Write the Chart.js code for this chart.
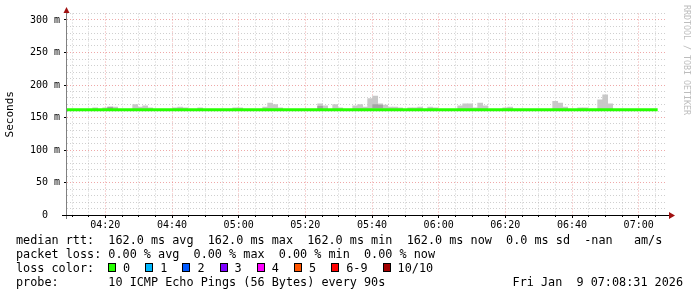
<!DOCTYPE html>
<html>
<head>
<meta charset="utf-8">
<script src="https://cdn.jsdelivr.net/npm/chart.js@4"></script>
<style>
  html, body { margin: 0; padding: 0; background: #fff; }
  canvas { display: block; }
</style>
</head>
<body>
<canvas id="smoke" width="697" height="297"></canvas>
<script>
// x is minutes after 04:08:30, one rrd step = 90 s
const startMin = 4 * 60 + 8.5;
const stepMin = 1.5;
const firstSlot = -1.3; // first step is cut by the left edge

// median rtt per step (ms)
const medianRtt = [
  162, 162, 162, 162, 162, 162, 162, 162, 162, 162, 162, 162, 162, 162, 162, 162, 162, 162, 162, 162,
  162, 162, 162, 162, 162, 162, 162, 162, 162, 162, 162, 162, 162, 162, 162, 162, 162, 162, 162, 162,
  162, 162, 162, 162, 162, 162, 162, 162, 162, 162, 162, 162, 162, 162, 162, 162, 162, 162, 162, 162,
  162, 162, 162, 162, 162, 162, 162, 162, 162, 162, 162, 162, 162, 162, 162, 162, 162, 162, 162, 162,
  162, 162, 162, 162, 162, 162, 162, 162, 162, 162, 162, 162, 162, 162, 162, 162, 162, 162, 162, 162,
  162, 162, 162, 162, 162, 162, 162, 162, 162, 162, 162, 162, 162, 162, 162, 162, 162, 162, 162
];

// smoke: step index and top of the grey band (ms)
const smokeSlot = [6, 8, 9, 10, 14, 15, 16, 17, 22, 23, 24, 27, 34, 35, 40, 41, 42, 43,
  51, 52, 54, 55, 58, 59, 60, 61, 62, 63, 64, 65, 66, 67, 69, 70, 71, 73, 74,
  79, 80, 81, 82, 83, 84, 88, 89, 98, 99, 100, 103, 104, 107, 108, 109];
const smokeTop = [165, 165, 166, 166, 170, 166, 168, 165, 165, 166, 165, 165, 165, 165, 166, 172, 170, 165,
  171, 168, 170, 165, 168, 170, 166, 179, 183, 171, 169, 166, 166, 165, 165, 165, 166, 166, 165,
  168, 171, 171, 165, 172, 168, 165, 166, 175, 172, 166, 165, 165, 177, 185, 171];

// darker part of the smoke
const darkSlot = [9, 51, 62, 63];
const darkLow = [163, 164, 165, 165];
const darkHigh = [166, 167, 170, 169];

const xTickLabels = ['04:20', '04:40', '05:00', '05:20', '05:40', '06:00', '06:20', '06:40', '07:00'];
const yTickValues = [0, 50, 100, 150, 200, 250, 300];

const lossLabels = ['0', '1', '2', '3', '4', '5', '6-9', '10/10'];
const lossColors = ['#26ff00', '#00b8ff', '#0059ff', '#7e00ff', '#ff00ff', '#ff5500', '#ff0000', '#a10000'];

const legendLines = [
  'median rtt:  162.0 ms avg  162.0 ms max  162.0 ms min  162.0 ms now  0.0 ms sd  -nan   am/s',
  'packet loss: 0.00 % avg  0.00 % max  0.00 % min  0.00 % now'
];
const probeText = 'probe:       10 ICMP Echo Pings (56 Bytes) every 90s';
const dateText = 'Fri Jan  9 07:08:31 2026';

const toMin = s => { const [h, m] = s.split(':').map(Number); return h * 60 + m - startMin; };
const slotX = i => firstSlot + stepMin * i;

const mono = '"DejaVu Sans Mono", "Liberation Mono", monospace';
const minorGrid = 'rgba(175,175,175,0.6)';
const majorGrid = 'rgba(228,110,110,0.6)';

const medianPts = medianRtt.map((v, i) => ({ x: slotX(i), y: v }));
medianPts.push({ x: slotX(medianRtt.length), y: medianRtt[medianRtt.length - 1] });

const smokePts = smokeSlot.map((s, i) => ({ x: slotX(s) + stepMin / 2, y: [162, smokeTop[i]] }));
const darkPts = darkSlot.map((s, i) => ({ x: slotX(s) + stepMin / 2, y: [darkLow[i], darkHigh[i]] }));

const xMajor = xTickLabels.map(toMin);
const xMinor = [];
for (let m = 1.5; m < 180; m += 5) xMinor.push(m);
const yMinor = [];
for (let v = 0; v <= 310; v += 10) yMinor.push(v);

const plotDecor = {
  id: 'plotDecor',
  beforeDraw(chart) {
    const c = chart.ctx;
    c.save();
    c.fillStyle = '#fff';
    c.fillRect(0, 0, chart.width, chart.height);
    c.restore();
  },
  afterDraw(chart) {
    const c = chart.ctx;
    const a = chart.chartArea;
    c.save();
    c.lineWidth = 1;
    // axes, a bit longer than the plot like rrdtool
    c.strokeStyle = '#808080';
    c.beginPath(); c.moveTo(66.5, a.bottom + 4); c.lineTo(66.5, 9); c.stroke();
    c.strokeStyle = '#000';
    c.beginPath(); c.moveTo(62, a.bottom + 0.5); c.lineTo(670, a.bottom + 0.5); c.stroke();
    c.fillStyle = '#a01010';
    c.beginPath(); c.moveTo(63.5, 13); c.lineTo(69.5, 13); c.lineTo(66.5, 7); c.closePath(); c.fill();
    c.beginPath(); c.moveTo(669, 212); c.lineTo(669, 219); c.lineTo(675, 215.5); c.closePath(); c.fill();

    // watermark
    c.save();
    c.translate(686, 5);
    c.rotate(Math.PI / 2);
    c.font = '8.3px ' + mono;
    c.fillStyle = '#bdbdbd';
    c.textBaseline = 'middle';
    c.fillText('RRDTOOL / TOBI OETIKER', 0, 0);
    c.restore();

    // legend
    c.font = '11.8px ' + mono;
    c.fillStyle = '#000';
    c.textBaseline = 'middle';
    c.textAlign = 'left';
    c.fillText(legendLines[0], 16, 241);
    c.fillText(legendLines[1], 16, 255);
    c.fillText('loss color:', 16, 269);
    let bx = 108;
    lossLabels.forEach((lab, i) => {
      const x = Math.round(bx);
      c.fillStyle = lossColors[i];
      c.fillRect(x, 263, 8, 9);
      c.strokeStyle = '#000';
      c.strokeRect(x + 0.5, 263.5, 7, 8);
      c.fillStyle = '#000';
      c.fillText(lab, bx + 15, 269);
      bx = bx + 15 + lab.length * 7.1 + 15.1;
    });
    c.fillText(probeText, 16, 283);
    c.textAlign = 'right';
    c.fillText(dateText, 683, 283);
    c.restore();
  }
};

new Chart(document.getElementById('smoke'), {
  type: 'line',
  data: {
    datasets: [
      {
        type: 'line',
        label: 'median rtt',
        data: medianPts,
        xAxisID: 'x',
        yAxisID: 'y',
        borderColor: '#26ff00',
        borderWidth: 3,
        pointRadius: 0,
        stepped: 'after',
        order: 0
      },
      {
        type: 'bar',
        label: 'smoke dark',
        data: darkPts,
        xAxisID: 'x',
        yAxisID: 'y',
        backgroundColor: '#a4a4a4',
        borderWidth: 0,
        grouped: false,
        barPercentage: 1,
        categoryPercentage: 1,
        order: 1
      },
      {
        type: 'bar',
        label: 'smoke',
        data: smokePts,
        xAxisID: 'x',
        yAxisID: 'y',
        backgroundColor: '#c8c8c8',
        borderWidth: 0,
        grouped: false,
        barPercentage: 1,
        categoryPercentage: 1,
        order: 2
      }
    ]
  },
  options: {
    responsive: false,
    devicePixelRatio: 1,
    animation: false,
    events: [],
    layout: { padding: { left: 0, right: 30, top: 13.5, bottom: 62 } },
    plugins: { legend: { display: false }, tooltip: { enabled: false } },
    scales: {
      x: {
        type: 'linear',
        position: 'bottom',
        weight: 1,
        min: 0,
        max: 180,
        offset: false,
        afterBuildTicks: s => { s.ticks = xMajor.map(v => ({ value: v })); },
        afterFit: s => { s.height = 20; },
        ticks: {
          autoSkip: false,
          maxRotation: 0,
          padding: 1,
          color: '#000',
          font: { family: mono, size: 10 },
          callback: (v, i) => xTickLabels[i]
        },
        grid: { offset: false, color: majorGrid, tickColor: '#000', tickLength: 3 },
        border: { display: false, dash: [1, 2] }
      },
      xMinor: {
        type: 'linear',
        axis: 'x',
        position: 'bottom',
        weight: 0,
        min: 0,
        max: 180,
        offset: false,
        afterBuildTicks: s => { s.ticks = xMinor.map(v => ({ value: v })); },
        afterFit: s => { s.height = 0; },
        ticks: { display: false },
        grid: {
          offset: false,
          drawTicks: true,
          tickLength: 2,
          tickColor: '#000',
          color: ctx => ((ctx.tick.value - 11.5) % 20 === 0 ? 'rgba(0,0,0,0)' : minorGrid)
        },
        border: { display: false, dash: [1, 2] }
      },
      y: {
        type: 'linear',
        position: 'left',
        weight: 1,
        min: 0,
        max: 310,
        afterBuildTicks: s => { s.ticks = yTickValues.map(v => ({ value: v })); },
        afterFit: s => { s.width = 67; },
        ticks: {
          padding: 4,
          color: '#000',
          font: { family: mono, size: 10 },
          callback: v => (v === 0 ? '0  ' : v + ' m')
        },
        title: {
          display: true,
          text: 'Seconds',
          color: '#000',
          font: { family: mono, size: 11 },
          padding: { top: 4, bottom: 0 }
        },
        grid: { color: majorGrid, tickColor: '#000', tickLength: 3 },
        border: { display: false, dash: [1, 2] }
      },
      yMinor: {
        type: 'linear',
        axis: 'y',
        position: 'left',
        weight: 0,
        min: 0,
        max: 310,
        afterBuildTicks: s => { s.ticks = yMinor.map(v => ({ value: v })); },
        afterFit: s => { s.width = 0; },
        ticks: { display: false },
        grid: {
          drawTicks: false,
          color: ctx => (ctx.tick.value % 50 === 0 ? 'rgba(0,0,0,0)' : minorGrid)
        },
        border: { display: false, dash: [1, 2] }
      }
    }
  },
  plugins: [plotDecor]
});
</script>
</body>
</html>
